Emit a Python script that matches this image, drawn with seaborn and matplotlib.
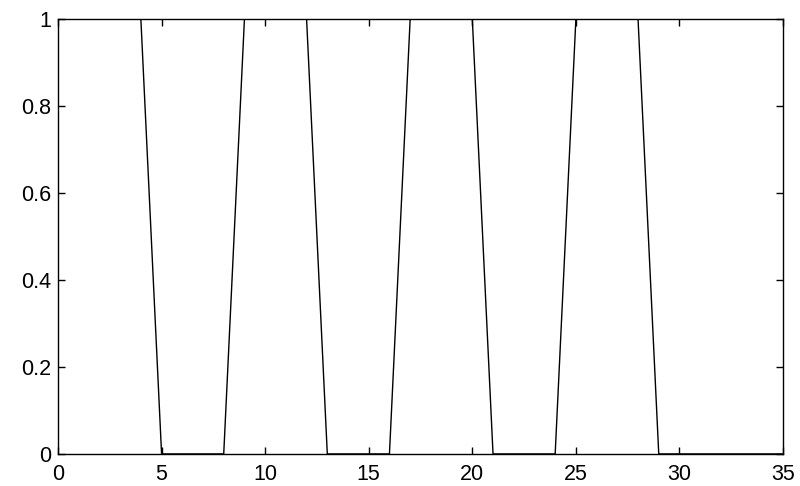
import matplotlib
matplotlib.use("Agg")
import matplotlib.pyplot as plt
import seaborn as sns
import pandas as pd

x_vals = [0, 4, 5, 8, 9, 12, 13, 16, 17, 20, 21, 24, 25, 28, 29, 35]
y_vals = [1, 1, 0, 0, 1, 1, 0, 0, 1, 1, 0, 0, 1, 1, 0, 0]
x_ticks = [0, 5, 10, 15, 20, 25, 30, 35]
y_ticks = [0, 0.2, 0.4, 0.6, 0.8, 1]
y_tick_labels = ["0", "0.2", "0.4", "0.6", "0.8", "1"]

sns.set_style("ticks")
plt.rcParams['font.family'] = ['Liberation Sans', 'DejaVu Sans']

fig = plt.figure(figsize=(8, 4.86), dpi=100)
ax = fig.add_axes([0.0725, 0.066, 0.9063, 0.895])

df = pd.DataFrame({"x": x_vals, "y": y_vals})
sns.lineplot(data=df, x="x", y="y", estimator=None, sort=False, color="black", linewidth=1.0, ax=ax)

ax.set_xlim(0, 35)
ax.set_ylim(0, 1)
ax.set_xticks(x_ticks)
ax.set_xticklabels([str(t) for t in x_ticks])
ax.set_yticks(y_ticks)
ax.set_yticklabels(y_tick_labels)
ax.set_xlabel("")
ax.set_ylabel("")
ax.tick_params(direction="in", top=True, right=True, length=5, width=1, labelsize=15.5, colors="black")
ax.tick_params(axis="x", pad=7)
ax.tick_params(axis="y", pad=5)
for s in ax.spines.values():
    s.set_visible(True)
    s.set_linewidth(1)
    s.set_color("black")

fig.savefig("out.png", dpi=100)
